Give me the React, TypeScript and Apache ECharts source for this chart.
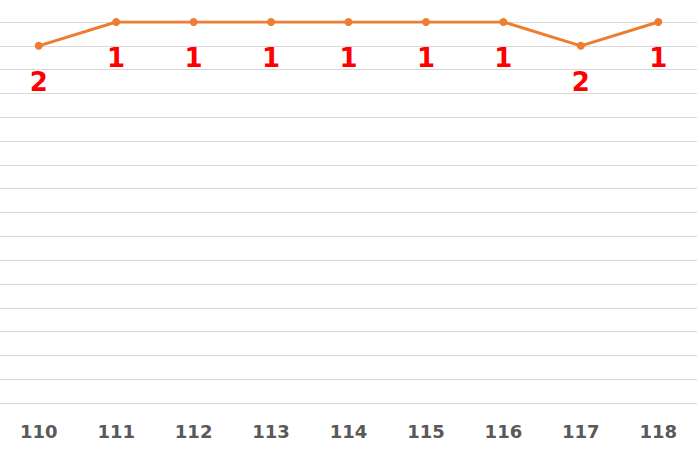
import React, { useEffect, useRef } from "react";
import * as echarts from "echarts";

const categories = ["110", "111", "112", "113", "114", "115", "116", "117", "118"];
const ranks = [2, 1, 1, 1, 1, 1, 1, 2, 1];
const yMin = 1;
const yMax = 17;

export default function App() {
  const ref = useRef<HTMLDivElement>(null);
  useEffect(() => {
    if (!ref.current) return;
    const chart = echarts.init(ref.current, null, { renderer: "svg" });
    chart.setOption({
      animation: false,
      grid: { left: 0, right: 0, top: 22, bottom: 49, containLabel: false },
      xAxis: {
        type: "category",
        data: categories,
        boundaryGap: true,
        axisLine: { show: true, lineStyle: { color: "#d9d9d9", width: 1 } },
        axisTick: { show: false },
        axisLabel: {
          color: "#595959",
          fontSize: 18,
          fontWeight: "bold",
          fontFamily: "DejaVu Sans",
          margin: 19,
        },
      },
      yAxis: {
        type: "value",
        inverse: true,
        min: yMin,
        max: yMax,
        interval: 1,
        axisLabel: { show: false },
        axisLine: { show: false },
        axisTick: { show: false },
        splitLine: { show: true, lineStyle: { color: "#d9d9d9", width: 1 } },
      },
      series: [
        {
          type: "line",
          data: ranks,
          symbol: "circle",
          symbolSize: 8,
          itemStyle: { color: "#ED7D31" },
          lineStyle: { color: "#ED7D31", width: 3 },
          label: {
            show: true,
            position: "bottom",
            distance: 19,
            color: "#FF0000",
            fontSize: 26,
            fontWeight: "bold",
            fontFamily: "DejaVu Sans",
          },
        },
      ],
    });
    return () => chart.dispose();
  }, []);
  return <div ref={ref} style={{ width: 697, height: 452, position: "absolute", left: 0, top: 0 }} />;
}
